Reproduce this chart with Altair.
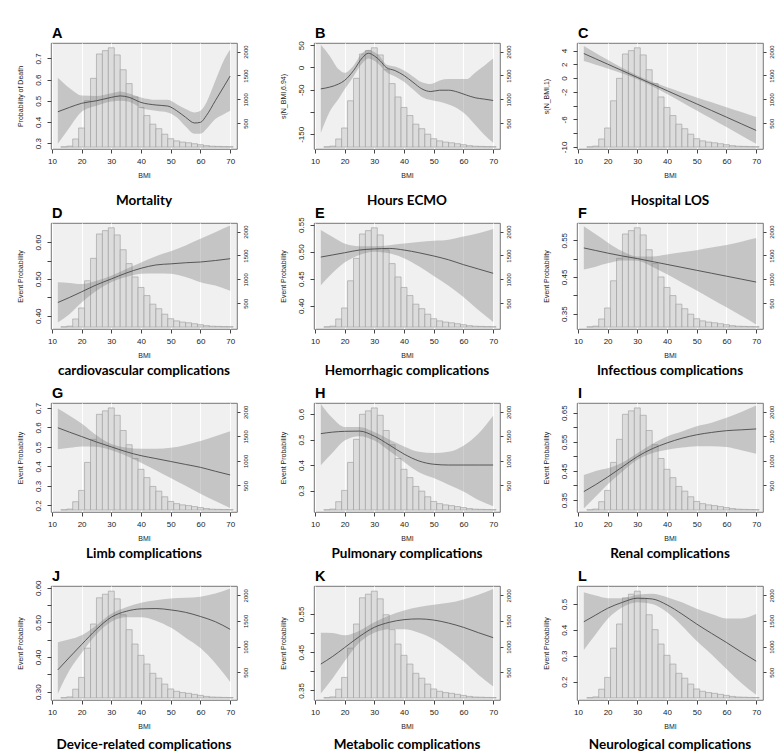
import altair as alt
import pandas as pd

# ---------------- shared BMI histogram (right axis, counts) ----------------
hist_bin_start = [13, 15, 17, 19, 21, 23, 25, 27, 29, 31, 33, 35, 37, 39, 41, 43, 45,
                  47, 49, 51, 53, 55, 57, 59, 61, 63, 65, 67, 69]
hist_bin_end = [15, 17, 19, 21, 23, 25, 27, 29, 31, 33, 35, 37, 39, 41, 43, 45, 47,
                49, 51, 53, 55, 57, 59, 61, 63, 65, 67, 69, 71]
hist_count = [5, 20, 170, 400, 970, 1440, 1950, 2020, 2080, 1930, 1620, 1330, 1050,
              830, 660, 480, 385, 270, 175, 130, 105, 90, 70, 50, 30, 18, 14, 10, 8]

panel_letters = ["A", "B", "C", "D", "E", "F", "G", "H", "I", "J", "K", "L"]
panel_titles = ["Mortality", "Hours ECMO", "Hospital LOS",
                "cardiovascular complications", "Hemorrhagic complications",
                "Infectious complications", "Limb complications",
                "Pulmonary complications", "Renal complications",
                "Device-related complications", "Metabolic complications",
                "Neurological complications"]
y_titles = ["Probability of Death", "s(N_BMI,6.94)", "s(N_BMI,1)"] + ["Event Probability"] * 9

grid_bmi = [12, 16, 20, 25, 30, 35, 40, 45, 50, 55, 60, 65, 70]

# ---------------- smooth fits with confidence bands ----------------
a_bmi = [12, 16, 20, 25, 30, 33, 36, 40, 45, 49, 52, 55, 58, 60, 62, 65, 68, 70]
a_fit = [0.448, 0.469, 0.488, 0.500, 0.516, 0.523, 0.516, 0.492, 0.480, 0.475, 0.453, 0.422, 0.395, 0.398, 0.430, 0.500, 0.570, 0.617]
a_lo = [0.297, 0.375, 0.448, 0.477, 0.497, 0.500, 0.495, 0.466, 0.453, 0.445, 0.422, 0.378, 0.344, 0.344, 0.367, 0.414, 0.438, 0.453]
a_hi = [0.609, 0.559, 0.525, 0.523, 0.536, 0.544, 0.534, 0.516, 0.505, 0.505, 0.484, 0.461, 0.445, 0.453, 0.492, 0.594, 0.695, 0.742]

b_bmi = [12, 15, 18, 20, 23, 26, 28, 30, 32, 34, 37, 40, 43, 46, 49, 52, 55, 58, 61, 64, 67, 70]
b_fit = [-48, -44, -37, -29, -7, 22, 32, 26, 15, 0, -7, -18, -33, -48, -54, -51, -51, -55, -62, -68, -71, -74]
b_lo = [-147, -99, -70, -49, -20, 10, 20, 15, 4, -10, -20, -32, -49, -66, -73, -77, -83, -92, -107, -129, -151, -169]
b_hi = [51, 26, -4, -12, 4, 33, 40, 35, 24, 7, 2, -7, -20, -33, -37, -29, -26, -26, -26, -11, 4, 20]

c_fit = [3.57, 2.80, 2.03, 1.07, 0.10, -0.86, -1.82, -2.79, -3.75, -4.71, -5.67, -6.64, -7.60]
c_lo = [2.47, 1.95, 1.41, 0.67, -0.18, -1.18, -2.30, -3.49, -4.70, -5.91, -7.12, -8.34, -9.55]
c_hi = [4.67, 3.65, 2.65, 1.47, 0.38, -0.54, -1.34, -2.09, -2.80, -3.51, -4.22, -4.94, -5.65]

d_fit = [0.436, 0.450, 0.465, 0.484, 0.500, 0.516, 0.529, 0.538, 0.541, 0.544, 0.546, 0.550, 0.555]
d_lo = [0.382, 0.405, 0.436, 0.468, 0.491, 0.505, 0.514, 0.515, 0.514, 0.505, 0.491, 0.482, 0.468]
d_hi = [0.491, 0.489, 0.486, 0.495, 0.509, 0.527, 0.545, 0.562, 0.575, 0.591, 0.609, 0.627, 0.645]

e_fit = [0.490, 0.494, 0.498, 0.503, 0.505, 0.506, 0.503, 0.498, 0.492, 0.485, 0.476, 0.468, 0.460]
e_lo = [0.438, 0.461, 0.480, 0.494, 0.500, 0.497, 0.488, 0.473, 0.455, 0.437, 0.416, 0.392, 0.370]
e_hi = [0.540, 0.527, 0.515, 0.510, 0.510, 0.512, 0.515, 0.518, 0.520, 0.522, 0.528, 0.534, 0.542]

f_fit = [0.529, 0.522, 0.515, 0.507, 0.500, 0.492, 0.484, 0.476, 0.468, 0.460, 0.452, 0.444, 0.436]
f_lo = [0.470, 0.478, 0.487, 0.495, 0.494, 0.478, 0.457, 0.435, 0.413, 0.390, 0.367, 0.344, 0.320]
f_hi = [0.588, 0.566, 0.544, 0.520, 0.506, 0.506, 0.511, 0.517, 0.523, 0.530, 0.537, 0.546, 0.556]

g_fit = [0.598, 0.575, 0.553, 0.525, 0.500, 0.475, 0.455, 0.440, 0.425, 0.410, 0.395, 0.375, 0.356]
g_lo = [0.488, 0.495, 0.502, 0.500, 0.483, 0.455, 0.418, 0.380, 0.340, 0.300, 0.260, 0.222, 0.186]
g_hi = [0.697, 0.660, 0.620, 0.560, 0.515, 0.497, 0.490, 0.490, 0.495, 0.510, 0.530, 0.555, 0.580]

h_fit = [0.523, 0.529, 0.532, 0.533, 0.513, 0.479, 0.443, 0.416, 0.403, 0.400, 0.400, 0.400, 0.400]
h_lo = [0.399, 0.449, 0.496, 0.513, 0.496, 0.456, 0.412, 0.372, 0.349, 0.323, 0.296, 0.263, 0.239]
h_hi = [0.639, 0.583, 0.549, 0.549, 0.529, 0.500, 0.473, 0.452, 0.447, 0.452, 0.476, 0.523, 0.593]

i_fit = [0.379, 0.403, 0.429, 0.464, 0.499, 0.526, 0.546, 0.562, 0.574, 0.582, 0.588, 0.591, 0.594]
i_lo = [0.321, 0.362, 0.403, 0.448, 0.488, 0.511, 0.523, 0.530, 0.535, 0.535, 0.532, 0.521, 0.509]
i_hi = [0.436, 0.450, 0.459, 0.479, 0.511, 0.542, 0.568, 0.585, 0.603, 0.615, 0.632, 0.652, 0.674]

j_fit = [0.363, 0.400, 0.436, 0.480, 0.515, 0.532, 0.539, 0.540, 0.536, 0.529, 0.517, 0.502, 0.480]
j_lo = [0.294, 0.363, 0.412, 0.466, 0.502, 0.515, 0.515, 0.505, 0.485, 0.456, 0.426, 0.382, 0.328]
j_hi = [0.443, 0.451, 0.463, 0.492, 0.525, 0.544, 0.557, 0.564, 0.569, 0.571, 0.574, 0.583, 0.598]

k_fit = [0.419, 0.439, 0.462, 0.491, 0.515, 0.528, 0.535, 0.537, 0.534, 0.526, 0.515, 0.501, 0.488]
k_lo = [0.342, 0.382, 0.426, 0.475, 0.501, 0.510, 0.510, 0.501, 0.484, 0.457, 0.426, 0.391, 0.360]
k_hi = [0.501, 0.500, 0.494, 0.506, 0.528, 0.546, 0.559, 0.568, 0.574, 0.579, 0.588, 0.600, 0.615]

l_fit = [0.431, 0.457, 0.483, 0.506, 0.522, 0.519, 0.496, 0.461, 0.422, 0.386, 0.351, 0.314, 0.279]
l_lo = [0.322, 0.383, 0.442, 0.487, 0.506, 0.500, 0.468, 0.416, 0.357, 0.305, 0.249, 0.195, 0.149]
l_hi = [0.545, 0.532, 0.522, 0.522, 0.535, 0.539, 0.526, 0.506, 0.481, 0.461, 0.444, 0.444, 0.461]

# left-axis domains, ticks, labelled ticks, formats
y_domains = [[0.272, 0.773], [-183, 55], [-10.3, 5.1], [0.364, 0.652], [0.357, 0.553],
             [0.308, 0.597], [0.166, 0.725], [0.216, 0.643], [0.309, 0.683],
             [0.276, 0.605], [0.325, 0.623], [0.129, 0.569]]
y_ticks = [[0.3, 0.4, 0.5, 0.6, 0.7], [-150, -100, -50, 0, 50], [-10, -8, -6, -4, -2, 0, 2, 4],
           [0.40, 0.45, 0.50, 0.55, 0.60], [0.40, 0.45, 0.50, 0.55],
           [0.35, 0.40, 0.45, 0.50, 0.55], [0.2, 0.3, 0.4, 0.5, 0.6, 0.7],
           [0.3, 0.4, 0.5, 0.6], [0.35, 0.40, 0.45, 0.50, 0.55, 0.60, 0.65],
           [0.30, 0.35, 0.40, 0.45, 0.50, 0.55, 0.60], [0.35, 0.40, 0.45, 0.50, 0.55],
           [0.2, 0.3, 0.4, 0.5]]
y_labelled = [[0.3, 0.4, 0.5, 0.6, 0.7], [-150, -50, 0, 50], [-10, -6, -2, 0, 2, 4],
              [0.40, 0.50, 0.60], [0.40, 0.45, 0.50, 0.55], [0.35, 0.45, 0.55],
              [0.2, 0.3, 0.4, 0.5, 0.6, 0.7], [0.3, 0.4, 0.5, 0.6],
              [0.35, 0.45, 0.55, 0.65], [0.30, 0.40, 0.50, 0.60], [0.35, 0.45, 0.55],
              [0.2, 0.3, 0.4, 0.5]]
y_formats = [".1f", "d", "d", ".2f", ".2f", ".2f", ".1f", ".1f", ".2f", ".2f", ".2f", ".1f"]

curves = [(a_bmi, a_fit, a_lo, a_hi), (b_bmi, b_fit, b_lo, b_hi),
          (grid_bmi, c_fit, c_lo, c_hi), (grid_bmi, d_fit, d_lo, d_hi),
          (grid_bmi, e_fit, e_lo, e_hi), (grid_bmi, f_fit, f_lo, f_hi),
          (grid_bmi, g_fit, g_lo, g_hi), (grid_bmi, h_fit, h_lo, h_hi),
          (grid_bmi, i_fit, i_lo, i_hi), (grid_bmi, j_fit, j_lo, j_hi),
          (grid_bmi, k_fit, k_lo, k_hi), (grid_bmi, l_fit, l_lo, l_hi)]

W = 186
row_heights = [106, 106, 109, 114]
title_offsets = [52, 42, 42, 45]


def make_panel(i):
    h = row_heights[i // 3]
    bmi, fit, lo, hi = curves[i]
    xscale = alt.Scale(domain=[9.7, 72.3], nice=False, zero=False)
    xaxis = alt.Axis(values=[10, 20, 30, 40, 50, 60, 70], format="d", title="BMI",
                     labelFontSize=8, titleFontSize=7, labelPadding=4, titlePadding=6,
                     tickSize=4, grid=True, gridColor="#FFFFFF", labelFlush=False,
                     labelOverlap=False)
    hist_df = pd.DataFrame({"b0": hist_bin_start, "b1": hist_bin_end, "n": hist_count})
    bars = alt.Chart(hist_df).mark_rect(fill="#DCDCDC", stroke="#9A9A9A", strokeWidth=0.6).encode(
        x=alt.X("b0:Q", scale=xscale, axis=xaxis),
        x2="b1:Q",
        y=alt.Y("n:Q", scale=alt.Scale(domain=[-40, 2180], nice=False, zero=False),
                axis=alt.Axis(orient="right", values=[500, 1000, 1500, 2000], title=None,
                              format="d", grid=False, labelAngle=270, labelAlign="center",
                              labelBaseline="top", labelFontSize=6, tickSize=3,
                              labelPadding=2, labelOverlap=False, labelFlush=False)),
        y2=alt.datum(0),
    )
    cond = " || ".join(f"datum.value == {v}" for v in y_labelled[i])
    yaxis = alt.Axis(orient="left", values=y_ticks[i], format=y_formats[i], title=y_titles[i],
                     labelAngle=270, labelAlign="center", labelBaseline="bottom",
                     labelFontSize=8, titleFontSize=7, labelPadding=5, titlePadding=11,
                     tickSize=4, grid=False, labelOverlap=False, labelFlush=False,
                     labelExpr=f"({cond}) ? replace(datum.label, '\u2212', '-') : ''")
    yscale = alt.Scale(domain=y_domains[i], nice=False, zero=False)
    cur = pd.DataFrame({"bmi": bmi, "fit": fit, "lo": lo, "hi": hi})
    band = alt.Chart(cur).mark_area(color="#7A7A7A", opacity=0.36, interpolate="monotone",
                                    clip=True).encode(
        x=alt.X("bmi:Q", scale=xscale, axis=xaxis),
        y=alt.Y("lo:Q", scale=yscale, axis=yaxis),
        y2="hi:Q",
    )
    line = alt.Chart(cur).mark_line(color="#4A4A4A", strokeWidth=0.9, interpolate="monotone",
                                    clip=True).encode(
        x=alt.X("bmi:Q", scale=xscale, axis=xaxis),
        y=alt.Y("fit:Q", scale=yscale, axis=None),
    )
    tdf = pd.DataFrame({"letter": [panel_letters[i]], "title": [panel_titles[i]]})
    letter = alt.Chart(tdf).mark_text(align="left", baseline="alphabetic", font="Liberation Sans",
                                      fontWeight="bold", fontSize=14.5, color="#000000").encode(
        text="letter:N", x=alt.value(1), y=alt.value(-5))
    title = alt.Chart(tdf).mark_text(align="center", baseline="middle", font="Lato",
                                     fontWeight="bold", fontSize=13.5, color="#000000").encode(
        text="title:N", x=alt.value(W / 2), y=alt.value(h + title_offsets[i // 3]))
    return alt.layer(bars, band, line, letter, title).resolve_scale(y="independent").properties(
        width=W, height=h)


panels = [make_panel(i) for i in range(12)]

chart = alt.concat(*panels, columns=3, spacing={"row": 74, "column": 77}, bounds="flush").configure_view(
    fill="#F0F0F0", stroke="#555555", strokeWidth=0.8
).configure_axis(
    domain=False, tickColor="#444444", labelColor="#222222", titleColor="#222222",
    labelFont="Liberation Sans", titleFont="Liberation Sans", titleFontWeight="normal"
).properties(padding={"left": 7, "top": 17, "right": 0, "bottom": 0})

chart.save("out.html", embed_options={"renderer": "svg", "actions": False})
